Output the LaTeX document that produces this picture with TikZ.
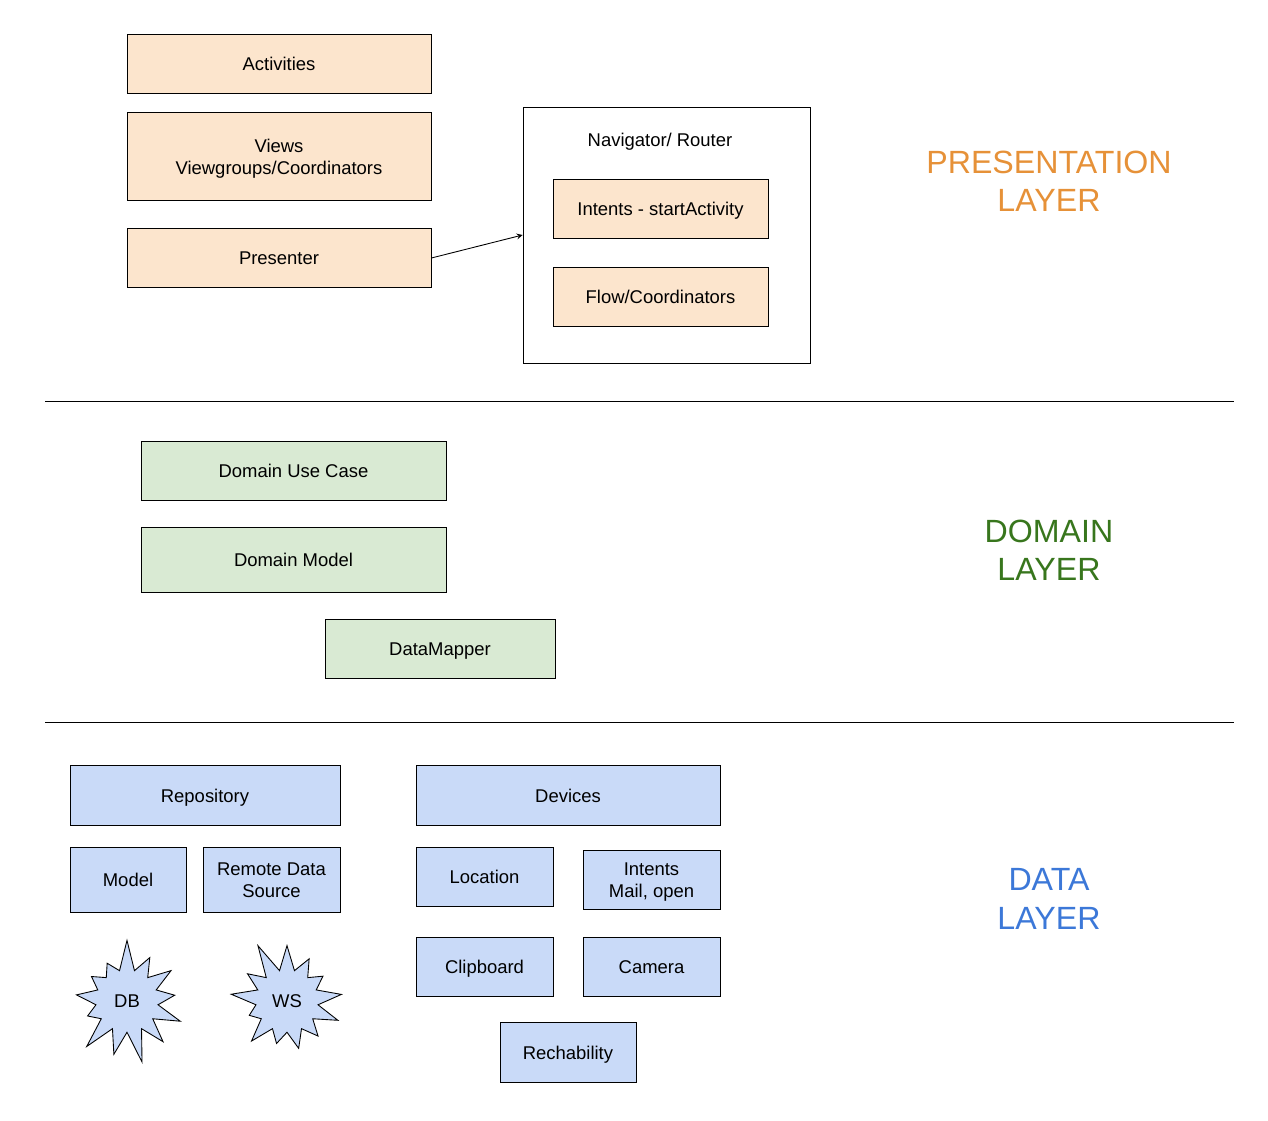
\documentclass[tikz,border=0pt]{standalone}
\usepackage{fontspec}
\setmainfont{Liberation Sans}
\usetikzlibrary{positioning, arrows, shapes}

\definecolor{presfill}{HTML}{FCE5CD}
\definecolor{domfill}{HTML}{D9EAD3}
\definecolor{datafill}{HTML}{C9DAF8}
\definecolor{presink}{HTML}{E69138}
\definecolor{domink}{HTML}{38761D}
\definecolor{dataink}{HTML}{3C78D8}

\begin{document}
\begin{tikzpicture}[x=0.02cm, y=-0.02cm,
    every node/.style={font=\fontsize{10.5}{12.5}\selectfont, align=center},
    box/.style={rectangle, draw, line width=0.5pt, inner sep=0pt, text depth=0pt},
    pres/.style={box, fill=presfill},
    dom/.style={box, fill=domfill},
    dat/.style={box, fill=datafill},
    burst/.style={starburst, draw, line width=0.5pt, fill=datafill, minimum size=2.55cm,
        starburst points=13, starburst point height=0.65cm},
    layer/.style={font=\fontsize{18.3}{21.8}\selectfont}]
    \useasboundingbox (0,0) rectangle (1268,1120);

    % presentation
    \node[pres, minimum width=6.08cm, minimum height=1.18cm] (activities) at (279,63.5) {Activities};
    \node[pres, minimum width=6.08cm, minimum height=1.76cm] (views) at (279,156.5) {Views\\Viewgroups/Coordinators};
    \node[pres, minimum width=6.08cm, minimum height=1.18cm] (presenter) at (279,258) {Presenter};
    \node[box, minimum width=5.74cm, minimum height=5.12cm] (nav) at (666.5,235) {};
    \node[text depth=0pt] (navtitle) at (660,140) {Navigator/ Router};
    \node[pres, minimum width=4.3cm, minimum height=1.18cm] (intents) at (660.5,209) {Intents - startActivity};
    \node[pres, minimum width=4.3cm, minimum height=1.18cm] (flow) at (660.5,297) {Flow/Coordinators};
    \node[layer, text=presink] (preslabel) at (1049,181) {PRESENTATION\\LAYER};

    \draw[-stealth, line width=0.5pt] (presenter.east) -- (nav.west);

    \draw[line width=0.5pt] (45,401) -- (1234,401);

    % domain
    \node[dom, minimum width=6.1cm, minimum height=1.18cm] (usecase) at (293.5,471) {Domain Use Case};
    \node[dom, minimum width=6.1cm, minimum height=1.3cm] (dommodel) at (293.5,560) {Domain Model};
    \node[dom, minimum width=4.6cm, minimum height=1.18cm] (mapper) at (440,649) {DataMapper};
    \node[layer, text=domink] (domlabel) at (1049,550) {DOMAIN\\LAYER};

    \draw[line width=0.5pt] (45,722) -- (1234,722);

    % data
    \node[dat, minimum width=5.4cm, minimum height=1.2cm] (repo) at (205,795.5) {Repository};
    \node[dat, minimum width=6.08cm, minimum height=1.2cm] (devices) at (568,795.5) {Devices};
    \node[dat, minimum width=2.32cm, minimum height=1.3cm] (model) at (128,880) {Model};
    \node[dat, minimum width=2.74cm, minimum height=1.3cm] (remote) at (271.5,880) {Remote Data\\Source};
    \node[dat, minimum width=2.74cm, minimum height=1.18cm] (location) at (484.5,877) {Location};
    \node[dat, minimum width=2.74cm, minimum height=1.18cm] (mail) at (651.5,880) {Intents\\Mail, open};
    \node[dat, minimum width=2.74cm, minimum height=1.18cm] (clipboard) at (484.5,967) {Clipboard};
    \node[dat, minimum width=2.74cm, minimum height=1.18cm] (camera) at (651.5,967) {Camera};
    \node[dat, minimum width=2.72cm, minimum height=1.2cm] (reach) at (568,1052.5) {Rechability};
    \node[burst, random starburst=7] (db) at (127,1001) {DB};
    \node[burst, random starburst=11] (ws) at (287,1001) {WS};
    \node[layer, text=dataink] (datalabel) at (1049,899) {DATA\\LAYER};
\end{tikzpicture}
\end{document}
